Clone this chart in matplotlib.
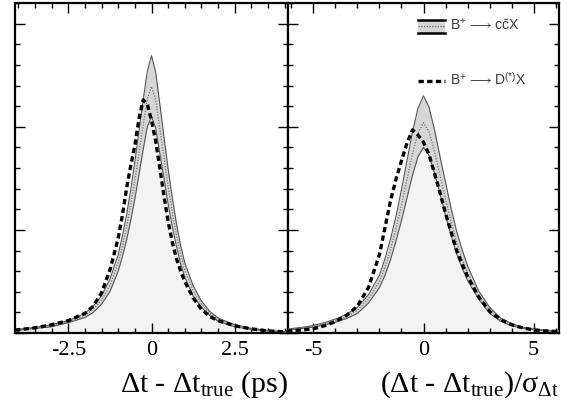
import numpy as np
import matplotlib
matplotlib.use("Agg")
import matplotlib.pyplot as plt
from matplotlib.patches import Rectangle
from matplotlib.ticker import MultipleLocator, NullFormatter

plt.rcParams["font.family"] = ["Liberation Serif", "DejaVu Serif"]
plt.rcParams["mathtext.fontset"] = "custom"
plt.rcParams["mathtext.rm"] = "Liberation Serif"
plt.rcParams["mathtext.it"] = "Liberation Serif:italic"
plt.rcParams["mathtext.sf"] = "Liberation Sans"
plt.rcParams["axes.unicode_minus"] = False

# ---- resolution in Delta t (ps) ----
dt_x = [-4.1, -3.5, -3.0, -2.5, -2.0, -1.75, -1.5, -1.25, -1.0, -0.875, -0.75,
        -0.625, -0.5, -0.375, -0.25, -0.125, 0.0, 0.125, 0.25, 0.375, 0.5,
        0.625, 0.75, 0.875, 1.0, 1.25, 1.5, 1.75, 2.0, 2.5, 3.0, 3.5, 4.1]
dt_ccx_mid = [0.028, 0.05, 0.07, 0.11, 0.17, 0.23, 0.32, 0.46, 0.68, 0.84, 1.02,
              1.24, 1.48, 1.75, 2.02, 2.27, 2.39, 2.26, 1.98, 1.70, 1.42,
              1.17, 0.95, 0.76, 0.61, 0.41, 0.28, 0.19, 0.13, 0.07, 0.04, 0.02, 0.01]
dt_ccx_hi = [0.033, 0.055, 0.08, 0.12, 0.19, 0.26, 0.36, 0.52, 0.76, 0.94, 1.14,
             1.39, 1.66, 1.96, 2.26, 2.54, 2.69, 2.53, 2.22, 1.90, 1.59,
             1.31, 1.06, 0.85, 0.68, 0.46, 0.31, 0.21, 0.145, 0.08, 0.045, 0.025, 0.012]
dt_ccx_lo = [0.024, 0.045, 0.06, 0.10, 0.15, 0.20, 0.28, 0.40, 0.60, 0.74, 0.90,
             1.09, 1.30, 1.54, 1.78, 2.00, 2.10, 1.99, 1.74, 1.50, 1.25,
             1.03, 0.84, 0.67, 0.54, 0.36, 0.25, 0.17, 0.115, 0.06, 0.035, 0.018, 0.008]
dt_dx = [0.028, 0.05, 0.08, 0.12, 0.19, 0.26, 0.39, 0.61, 0.92, 1.14, 1.40,
         1.62, 1.82, 2.08, 2.26, 2.22, 2.06, 1.86, 1.60, 1.33, 1.08,
         0.88, 0.72, 0.60, 0.50, 0.34, 0.23, 0.16, 0.12, 0.07, 0.04, 0.02, 0.01]

# ---- pull distribution (Delta t - Delta t_true) / sigma ----
pull_x = [-6.2, -5.5, -5.0, -4.5, -4.0, -3.5, -3.0, -2.5, -2.0, -1.75, -1.5,
          -1.25, -1.0, -0.75, -0.5, -0.25, 0.0, 0.25, 0.5, 0.75, 1.0, 1.25,
          1.5, 1.75, 2.0, 2.5, 3.0, 3.5, 4.0, 4.5, 5.0, 5.5, 6.2]
pull_ccx_mid = [0.033, 0.05, 0.065, 0.09, 0.12, 0.16, 0.22, 0.33, 0.50, 0.64, 0.81,
                1.01, 1.24, 1.49, 1.74, 1.94, 2.04, 1.95, 1.76, 1.53, 1.30, 1.08,
                0.88, 0.72, 0.58, 0.37, 0.22, 0.13, 0.08, 0.05, 0.035, 0.025, 0.018]
pull_ccx_hi = [0.038, 0.055, 0.073, 0.10, 0.135, 0.18, 0.25, 0.37, 0.56, 0.72, 0.91,
               1.13, 1.39, 1.67, 1.95, 2.18, 2.30, 2.19, 1.97, 1.71, 1.46, 1.21,
               0.99, 0.81, 0.65, 0.41, 0.25, 0.145, 0.09, 0.056, 0.039, 0.028, 0.02]
pull_ccx_lo = [0.028, 0.044, 0.057, 0.08, 0.105, 0.14, 0.19, 0.29, 0.44, 0.56, 0.71,
               0.89, 1.09, 1.31, 1.53, 1.71, 1.80, 1.72, 1.55, 1.35, 1.14, 0.95,
               0.77, 0.63, 0.51, 0.33, 0.19, 0.115, 0.07, 0.044, 0.031, 0.022, 0.016]
pull_dx = [0.018, 0.03, 0.04, 0.07, 0.11, 0.17, 0.26, 0.44, 0.76, 1.02, 1.28,
           1.49, 1.67, 1.84, 1.97, 1.92, 1.85, 1.73, 1.55, 1.36, 1.16, 0.98,
           0.80, 0.67, 0.55, 0.35, 0.21, 0.13, 0.08, 0.05, 0.03, 0.02, 0.013]

left_ticks = [-2.5, 0, 2.5]
left_ticklabels = ["-2.5", "0", "2.5"]
right_ticks = [-5, 0, 5]
right_ticklabels = ["-5", "0", "5"]
left_xlabel = "Δt - Δt$_{\\mathrm{true}}$ (ps)"
right_xlabel = "(Δt - Δt$_{\\mathrm{true}}$)/σ$_{\\mathrm{Δt}}$"
legend_ccx = "B$^{\\mathsf{+}}\\,\\longrightarrow\\,$c$\\bar{\\mathsf{c}}$X"
legend_dx = "B$^{\\mathsf{+}}\\,\\longrightarrow\\,$D$^{\\mathsf{(*)}}$X"

W, H = 571, 403
fig = plt.figure(figsize=(W / 100, H / 100), dpi=100)
ax_l = fig.add_axes([15 / W, 1 - 333 / H, 273 / W, 330 / H])
ax_r = fig.add_axes([288 / W, 1 - 333 / H, 271 / W, 330 / H])

band_fill = "#d6d6d6"
under_fill = "#f3f3f3"
edge_col = "#555555"


def draw_panel(ax, x, mid, hi, lo, dash, xlim, minor, ticks, labels):
    ax.fill_between(x, 0, lo, color=under_fill, lw=0, zorder=1)
    ax.fill_between(x, lo, hi, color=band_fill, lw=0, zorder=2)
    ax.plot(x, hi, color=edge_col, lw=0.8, zorder=3)
    ax.plot(x, lo, color=edge_col, lw=0.8, zorder=3)
    ax.plot(x, mid, color="#777777", lw=0.9, ls=(0, (1, 1.2)), zorder=3)
    ax.plot(x, dash, color="black", lw=2.4, ls=(0, (1.6, 1.0)), zorder=4)
    ax.set_xlim(*xlim)
    ax.set_ylim(0, 3.2)
    ax.set_xticks(ticks)
    ax.set_xticklabels(labels)
    ax.xaxis.set_minor_locator(MultipleLocator(minor))
    ax.yaxis.set_major_locator(MultipleLocator(1.0))
    ax.yaxis.set_minor_locator(MultipleLocator(0.2))
    ax.yaxis.set_major_formatter(NullFormatter())
    ax.tick_params(which="both", direction="in", top=True, right=True,
                   color="black", width=1.0)
    ax.tick_params(which="major", length=7)
    ax.tick_params(which="minor", length=3.5)
    ax.tick_params(axis="x", which="major", labelsize=16, pad=6)
    for s in ax.spines.values():
        s.set_linewidth(1.6)


draw_panel(ax_l, dt_x, dt_ccx_mid, dt_ccx_hi, dt_ccx_lo, dt_dx,
           (-4.1, 4.1), 0.5, left_ticks, left_ticklabels)
draw_panel(ax_r, pull_x, pull_ccx_mid, pull_ccx_hi, pull_ccx_lo, pull_dx,
           (-6.15, 6.15), 1, right_ticks, right_ticklabels)

ax_l.text(1.0, -0.178, left_xlabel, transform=ax_l.transAxes, ha="right",
          va="baseline", fontsize=21.5)
ax_r.text(1.0, -0.178, right_xlabel, transform=ax_r.transAxes, ha="right",
          va="baseline", fontsize=21.5)

# legend, drawn by hand in the right panel
tr = ax_r.transAxes
ax_r.add_patch(Rectangle((0.480, 0.909), 0.099, 0.039, transform=tr,
                         facecolor=band_fill, edgecolor="none", zorder=5))
ax_r.plot([0.480, 0.579], [0.948, 0.948], transform=tr, color="black", lw=1.8, zorder=6)
ax_r.plot([0.480, 0.579], [0.909, 0.909], transform=tr, color="black", lw=1.8, zorder=6)
ax_r.plot([0.480, 0.579], [0.929, 0.929], transform=tr, color="#666666", lw=0.9,
          ls=(0, (1, 1.2)), zorder=6)
ax_r.plot([0.480, 0.579], [0.765, 0.765], transform=tr, color="black", lw=2.4,
          ls=(0, (1.6, 1.0)), zorder=6)
ax_r.text(0.598, 0.929, legend_ccx, transform=tr, ha="left", va="center",
          fontsize=10, family="Liberation Sans", color="#3a3a3a")
ax_r.text(0.598, 0.765, legend_dx, transform=tr, ha="left", va="center",
          fontsize=10, family="Liberation Sans", color="#3a3a3a")

fig.savefig("out.png", dpi=100)
